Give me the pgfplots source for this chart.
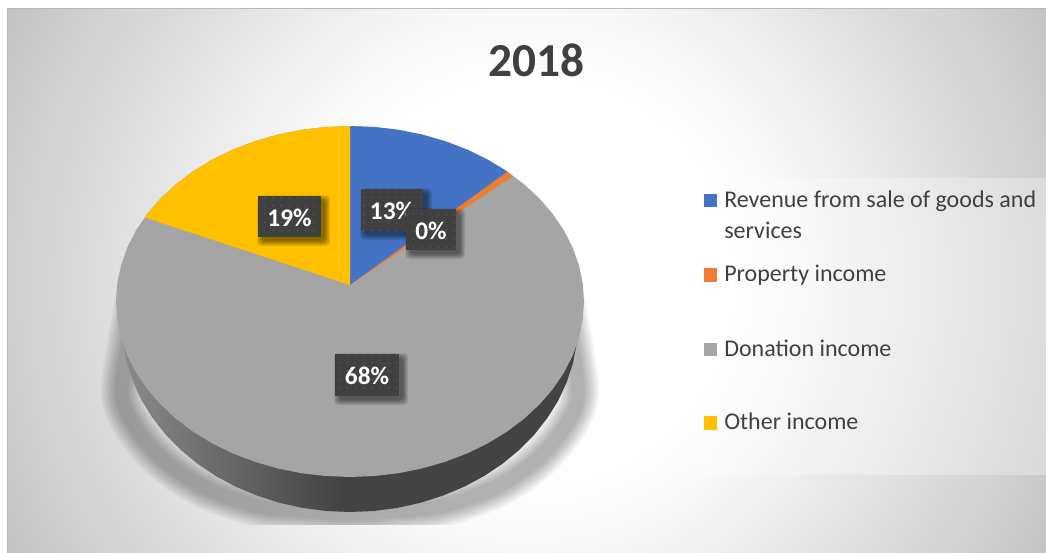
\documentclass[border=0pt]{standalone}
\usepackage{fontspec}
\setmainfont{Carlito}
\usepackage{pgfplots}
\pgfplotsset{compat=1.18}
\usepackage{pgfplotstable}
\usetikzlibrary{patterns.meta}
\definecolor{ink}{HTML}{404040}
\definecolor{blueS}{HTML}{4472C4}
\definecolor{orangeS}{HTML}{ED7D31}
\definecolor{grayS}{HTML}{A5A5A5}
\definecolor{yellowS}{HTML}{FFC000}
\definecolor{bgA}{HTML}{F8F8F8}
\definecolor{bgB}{HTML}{E4E4E4}
\definecolor{bgC}{HTML}{D2D2D2}
\definecolor{bgD}{HTML}{C2C2C2}
\definecolor{sideA}{HTML}{8A8A8A}
\definecolor{sideB}{HTML}{434343}
\definecolor{dotc}{HTML}{5A5A5A}
% background: r in bp = px/24
\pgfdeclareradialshading{bgrad}{\pgfpoint{0bp}{0bp}}{
  color(0bp)=(white); color(8.3bp)=(white); color(11.2bp)=(bgA); color(16.2bp)=(bgB);
  color(20.8bp)=(bgC); color(24.6bp)=(bgD); color(50bp)=(bgD)}
\pgfdeclarehorizontalshading{sidegrad}{100bp}{
  color(0bp)=(sideA); color(25bp)=(sideA); color(49bp)=(sideB); color(100bp)=(sideB)}

% pie outlines, read in image pixels
\pgfplotstableread{
x y
350 126
374.5 127
398.6 129.8
422.3 134.6
445.2 141.2
467 149.5
487.5 159.5
506.6 171.1
523.9 184.1
539.3 198.3
552.6 213.7
563.8 230.1
572.6 247.3
578.9 265
582.7 283.2
584 301.5
582.7 319.8
578.9 338
572.6 355.7
563.8 372.9
552.6 389.3
539.3 404.7
523.9 418.9
506.6 431.9
487.5 443.5
467 453.5
445.2 461.8
422.3 468.4
398.6 473.2
374.5 476
350 477
325.5 476
301.4 473.2
277.7 468.4
254.8 461.8
233 453.5
212.5 443.5
193.4 431.9
176.1 418.9
160.7 404.7
147.4 389.3
136.2 372.9
127.4 355.7
121.1 338
117.3 319.8
116 301.5
117.3 283.2
121.1 265
127.4 247.3
136.2 230.1
147.4 213.7
160.7 198.3
176.1 184.1
193.4 171.1
212.5 159.5
233 149.5
254.8 141.2
277.7 134.6
301.4 129.8
325.5 127
}\topface
\pgfplotstableread{
x y
350 285
350 126
374.5 127
398.6 129.8
422.3 134.6
445.2 141.2
467 149.5
487.5 159.5
506.6 171.1
507.5 171.8
}\blueslice
\pgfplotstableread{
x y
350 285
507.5 171.8
513 176
}\orangeslice
\pgfplotstableread{
x y
350 285
145 217.5
147.4 213.7
160.7 198.3
176.1 184.1
193.4 171.1
212.5 159.5
233 149.5
254.8 141.2
277.7 134.6
301.4 129.8
325.5 127
350 126
}\yellowslice
\pgfplotstableread{
x y
578 324
576.7 343.6
573 363.1
566.8 382.1
558.3 400.5
547.4 418
534.5 434.5
519.4 449.8
502.6 463.7
484 476.1
464 486.8
442.7 495.7
420.5 502.8
397.4 507.9
373.8 511
350 512
326.2 511
302.6 507.9
279.5 502.8
257.3 495.7
236 486.8
216 476.1
197.4 463.7
180.6 449.8
165.5 434.5
152.6 418
141.7 400.5
133.2 382.1
127 363.1
123.3 343.6
122 324
}\sideface
\pgfplotstableread{
x y
140 280
122 388
136 428
166 462
206 488
258 506
305 511
350 514
395 511
442 506
494 488
534 462
564 428
578 388
560 280
}\shadowline

% one soft layer of a label's shadow: x1 y1 x2 y2 spread
\newcommand{\shb}[5]{
  \fill[black,opacity=.09,rounded corners=3pt] (axis cs:#1+4-#5,#2+4-#5) rectangle (axis cs:#3+4+#5,#4+4+#5);
}
% data label box: x1 y1 x2 y2 text
\newcommand{\lbl}[5]{
  \shb{#1}{#2}{#3}{#4}{5}\shb{#1}{#2}{#3}{#4}{4}\shb{#1}{#2}{#3}{#4}{3}
  \shb{#1}{#2}{#3}{#4}{2}\shb{#1}{#2}{#3}{#4}{1}\shb{#1}{#2}{#3}{#4}{0}
  \fill[ink] (axis cs:#1,#2) rectangle (axis cs:#3,#4);
  \begin{scope}
    \clip (axis cs:#1,#2) rectangle (axis cs:#3,#4);
    \fill[pattern={Dots[distance=6.2pt,radius=.65pt]},pattern color=dotc] (axis cs:#1,#2) rectangle (axis cs:#3,#4);
  \end{scope}
  \node[text=white,font=\fontsize{19}{20}\selectfont\bfseries,inner sep=0pt] at (axis cs:{(#1+#3)/2},{(#2+#4)/2+1}) {#5};
}
\newcommand{\legitem}[3]{
  \fill[#1] (axis cs:704,#2-13.5) rectangle (axis cs:717,#2);
  \node[anchor=base west,inner sep=0pt,text=ink,font=\fontsize{18}{20}\selectfont] at (axis cs:724,#2) {#3};
}
\newcommand{\shadowlayer}[1]{
  \addplot[smooth,draw=black,draw opacity=.026,line width=#1pt,line join=round,mark=none,forget plot] table {\shadowline};
}

\begin{document}
\begin{tikzpicture}
\begin{axis}[
  scale only axis, width=784.5pt, height=414.75pt,
  xmin=0, xmax=1046, ymin=0, ymax=553, y dir=reverse,
  hide axis, clip=true]
  % chart area
  \begin{scope}
    \clip (axis cs:7.5,8.5) rectangle (axis cs:1046,553);
    \shade[shading=bgrad,overlay] (axis cs:-70,-319) rectangle (axis cs:1130,881);
  \end{scope}
  \draw[color=black!28,line width=.9pt] (axis cs:7.5,553) -- (axis cs:7.5,8.5) -- (axis cs:1046,8.5);

  % soft shadow under the pie
  \shadowlayer{32}\shadowlayer{30}\shadowlayer{28}\shadowlayer{26}\shadowlayer{24}
  \shadowlayer{22}\shadowlayer{20}\shadowlayer{18}\shadowlayer{16}\shadowlayer{14}
  \shadowlayer{12}\shadowlayer{10}
  \begin{scope}
    \clip (axis cs:90,525) rectangle (axis cs:610,553);
    \shade[shading=bgrad,overlay] (axis cs:-70,-319) rectangle (axis cs:1130,881);
  \end{scope}

  % pie
  \addplot[draw=none,shading=sidegrad,mark=none,forget plot] table {\sideface};
  \addplot[draw=none,fill=grayS,mark=none,forget plot] table {\topface};
  \addplot[draw=none,fill=blueS,mark=none,forget plot] table {\blueslice};
  \addplot[draw=none,fill=orangeS,mark=none,forget plot] table {\orangeslice};
  \addplot[draw=none,fill=yellowS,mark=none,forget plot] table {\yellowslice};

  % title
  \node[text=ink,font=\fontsize{35.5}{38}\selectfont\bfseries,inner sep=0pt] at (axis cs:536,60.5) {2018};

  % data labels
  \lbl{258}{196}{321}{237}{19\%}
  \lbl{361}{189}{423}{231}{13\%}
  \lbl{406}{209}{456}{250}{0\%}
  \lbl{335}{354}{399}{396}{68\%}

  % legend
  \fill[white,opacity=.3] (axis cs:692,178) rectangle (axis cs:1046,475);
  \legitem{blueS}{207}{Revenue from sale of goods and}
  \node[anchor=base west,inner sep=0pt,text=ink,font=\fontsize{18}{20}\selectfont] at (axis cs:724,238) {services};
  \legitem{orangeS}{281.7}{Property income}
  \legitem{grayS}{356}{Donation income}
  \legitem{yellowS}{429.5}{Other income}
\end{axis}
\pgfresetboundingbox
\path[use as bounding box] (0,0) rectangle (784.5pt,414.75pt);
\end{tikzpicture}
\end{document}
